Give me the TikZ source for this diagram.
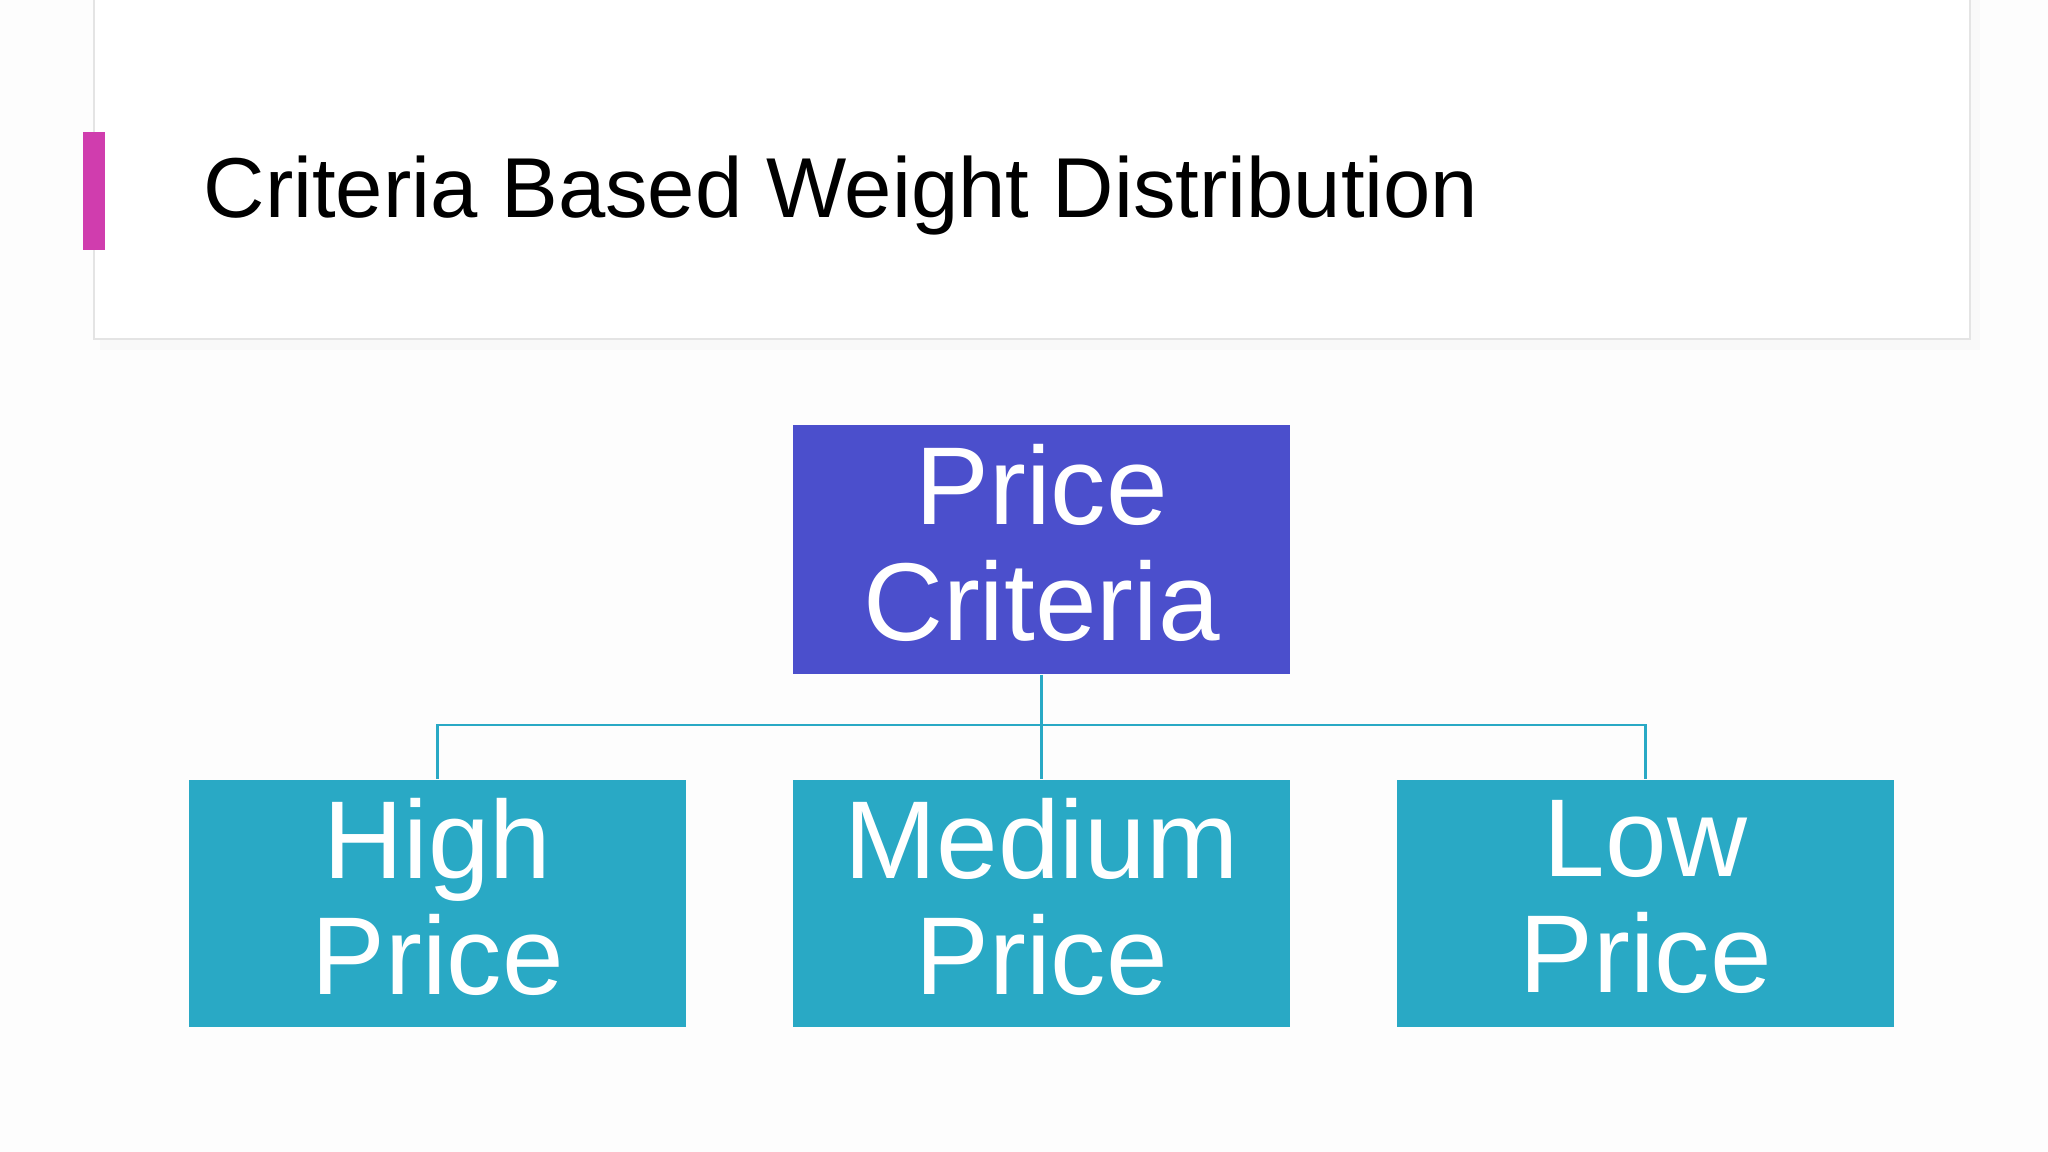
\documentclass[tikz,border=0pt]{standalone}
\usepackage{fontspec}
\setmainfont{Liberation Sans}
\usepackage{tikz}
\usetikzlibrary{positioning}
\definecolor{mpurple}{RGB}{75, 79, 204}
\definecolor{mteal}{RGB}{41, 169, 197}
\definecolor{mpink}{RGB}{208, 61, 174}
\definecolor{mback}{RGB}{253, 253, 253}
\definecolor{mframe}{RGB}{228, 228, 228}
\tikzset{
  critbox/.style={fill=mteal, text=white, inner sep=0pt, align=center,
    minimum width=4.97cm, minimum height=2.47cm, text depth=0.14cm,
    font=\fontsize{31.5}{33}\selectfont},
  topbox/.style={critbox, fill=mpurple, minimum height=2.49cm},
  link/.style={mteal, line width=0.6pt}
}

\begin{document}
\begin{tikzpicture}
      \useasboundingbox (0, 0) rectangle (20.48, -11.52);
      \fill [mback] (0, 0) rectangle (20.48, -11.52);
      \fill [black, opacity=0.015] (1.00, 0) rectangle (19.80, -3.50);
      \draw [mframe, line width=0.5pt, fill=white] (0.94, 0.2) rectangle (19.70, -3.39);
      \fill [mpink] (0.83, -1.32) rectangle (1.05, -2.50);
      \node (title) [anchor=base west, inner sep=0pt, font=\fontsize{24.2}{29}\selectfont] at (2.03, -2.18) {Criteria Based Weight Distribution};
      \node (price) [topbox] at (10.415, -5.495) {Price\\Criteria};
      \node (high) [critbox] at (4.375, -9.035) {High\\Price};
      \node (medium) [critbox] at (10.415, -9.035) {Medium\\Price};
      \node (low) [critbox] at (16.455, -9.035) {Low\\Price};
      \coordinate (split) at (10.415, -7.25);
      \draw [link] (price.south) -- (split);
      \draw [link] (split) -| (high.north);
      \draw [link] (split) -- (medium.north);
      \draw [link] (split) -| (low.north);
    \end{tikzpicture}
\end{document}
